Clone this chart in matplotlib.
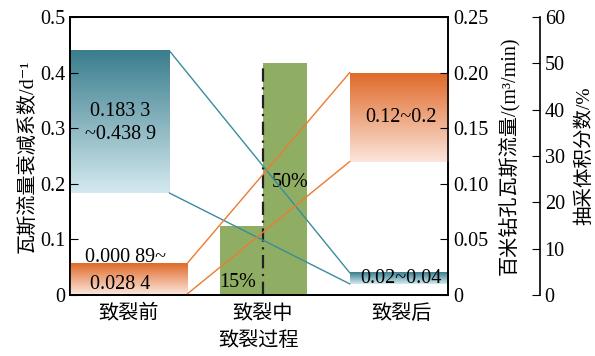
import numpy as np
import matplotlib
matplotlib.use('Agg')
import matplotlib.pyplot as plt
from matplotlib.colors import to_rgb

plt.rcParams['font.family'] = ['Liberation Serif', 'DejaVu Serif', 'Noto Sans CJK SC']
plt.rcParams['font.size'] = 14.5

# 数据
stages = ['致裂前', '致裂中', '致裂后']
decay_before = [0.1833, 0.4389]      # 瓦斯流量衰减系数 d^-1
decay_after = [0.02, 0.04]
flow_before = [0.00089, 0.0284]      # 百米钻孔瓦斯流量 m3/min
flow_after = [0.12, 0.2]
extract_pct = [15, 50]               # 抽采体积分数 %
decay_text = ['0.183 3\n~0.438 9', '0.02~0.04']
flow_text = ['0.000 89~', '0.028 4', '0.12~0.2']

teal_top, teal_bot = '#3a7d8d', '#d4e9ef'
orng_top, orng_bot = '#e06a2a', '#fbe5db'
green = '#8fae64'
teal_line, orng_line = '#3a8c9e', '#ee7a32'


def grad_box(ax, x0, x1, y0, y1, c_top, c_bot):
    t = np.linspace(0, 1, 100)[:, None]
    a, b = np.array(to_rgb(c_top)), np.array(to_rgb(c_bot))
    img = (a * (1 - t) + b * t)[:, None, :]
    ax.imshow(img, extent=(x0, x1, y0, y1), aspect='auto', origin='upper',
              interpolation='bilinear', zorder=1)


fig = plt.figure(figsize=(5.95, 3.56), dpi=100)
ax = fig.add_axes([70/595, 61/356, 378/595, 278/356])
ax2 = ax.twinx()
ax3 = ax.twinx()
ax3.spines['right'].set_position(('axes', 1.243))
ax3.set_zorder(1)
ax.set_zorder(2)
ax2.set_zorder(3)
ax.patch.set_visible(False)
ax2.patch.set_visible(False)

# 左: 衰减系数
grad_box(ax, 0, 0.79, decay_before[0], decay_before[1], teal_top, teal_bot)
grad_box(ax, 2.22, 3.0, decay_after[0], decay_after[1], teal_top, teal_bot)
ax.plot([0.79, 2.22], [decay_before[1], decay_after[1]], color=teal_line, lw=1, zorder=2)
ax.plot([0.79, 2.22], [decay_before[0], decay_after[0]], color=teal_line, lw=1, zorder=2)
ax.text(0.40, 0.309, decay_text[0], ha='center', va='center', linespacing=1.25, zorder=3)
ax.text(2.63, 0.029, decay_text[1], ha='center', va='center', zorder=3)
ax.set_xlim(0, 3)
ax.set_ylim(0, 0.5)
ax.set_yticks([0, 0.1, 0.2, 0.3, 0.4, 0.5])
ax.set_yticklabels(['0', '0.1', '0.2', '0.3', '0.4', '0.5'])
ax.set_xticks([0.46, 1.53, 2.63])
ax.set_xticklabels(stages)
ax.tick_params(axis='x', length=0, pad=7)
ax.tick_params(axis='y', direction='in', length=6)
ax.set_ylabel('瓦斯流量衰减系数/d⁻¹', labelpad=2)
ax.set_xlabel('致裂过程', labelpad=6)

# 右: 百米钻孔瓦斯流量
grad_box(ax2, 0, 0.93, flow_before[0], flow_before[1], orng_top, orng_bot)
grad_box(ax2, 2.22, 3.0, flow_after[0], flow_after[1], orng_top, orng_bot)
ax2.plot([0.93, 2.22], [flow_before[1], flow_after[1]], color=orng_line, lw=1, zorder=2)
ax2.plot([0.93, 2.22], [flow_before[0], flow_after[0]], color=orng_line, lw=1, zorder=2)
ax2.text(0.44, 0.0333, flow_text[0], ha='center', va='center', zorder=3)
ax2.text(0.40, 0.009, flow_text[1], ha='center', va='center', zorder=3)
ax2.text(2.63, 0.16, flow_text[2], ha='center', va='center', zorder=3)
ax2.set_xlim(0, 3)
ax2.set_ylim(0, 0.25)
ax2.set_yticks([0, 0.05, 0.10, 0.15, 0.20, 0.25])
ax2.set_yticklabels(['0', '0.05', '0.10', '0.15', '0.20', '0.25'])
ax2.tick_params(axis='y', direction='in', length=6)
ax2.set_ylabel('百米钻孔瓦斯流量/(m³/min)', labelpad=8)

# 第三轴: 抽采体积分数
ax3.bar([1.36, 1.705], extract_pct, width=0.345, color=green, zorder=1)
ax3.plot([1.53, 1.53], [0, extract_pct[1]], color='#222222', lw=1.6,
         linestyle=(0, (6, 2.5, 1, 2.5)), zorder=2)
ax3.text(1.33, 2.8, f'{extract_pct[0]}%', ha='center', va='center', zorder=3)
ax3.text(1.75, 24.2, f'{extract_pct[1]}%', ha='center', va='center', zorder=3)
ax3.set_xlim(0, 3)
ax3.set_ylim(0, 60)
ax3.set_yticks(range(0, 61, 10))
ax3.tick_params(axis='y', direction='in', length=6)
ax3.set_ylabel('抽采体积分数/%', labelpad=7, fontsize=14)

for a in (ax, ax2, ax3):
    for s in a.spines.values():
        s.set_linewidth(1.2)

fig.savefig('out.png', dpi=100)
